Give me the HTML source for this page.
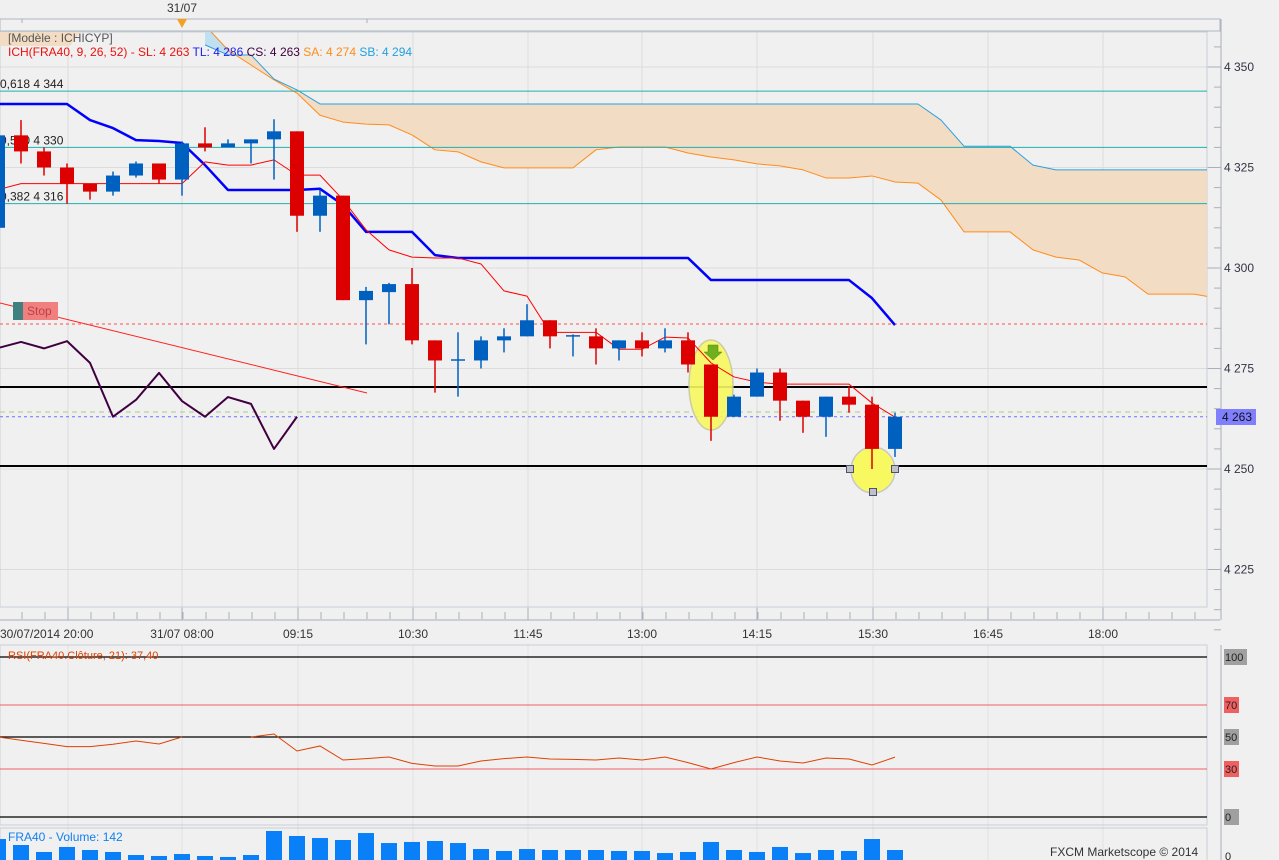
<!DOCTYPE html>
<html><head><meta charset="utf-8">
<style>
html,body{margin:0;padding:0;background:#f0f0f0;}
svg{display:block;font-family:"Liberation Sans",sans-serif;}
</style></head>
<body>
<svg id="chart" width="1279" height="860" viewBox="0 0 1279 860" xmlns="http://www.w3.org/2000/svg">
<defs><clipPath id="mainclip"><rect x="0" y="32" width="1207" height="575"/></clipPath></defs>
<rect x="0" y="0" width="1279" height="860" fill="#f0f0f0"/>
<g id="grid"></g>
<g id="main" clip-path="url(#mainclip)"></g>
<g id="overlay"></g>
<g id="rsi"></g>
<g id="vol"></g>
</svg>
<script>
// ---- data ----
const opens  =[4310,4333,4329,4325,4321,4319,4323,4326,4322,4331,4330,4331,4332,4334,4313,4318,4292,4294,4296,4282,4277,4277,4282,4283,4287,4283,4283,4280,4282,4280,4282,4276,4263,4268,4274,4267,4263,4268,4266,4255];
const highs  =[4334,4336.8,4330,4326,4321,4324,4326.5,4326,4331.5,4335,4332,4332,4337,4334,4319.5,4318,4295.3,4296.3,4300,4282,4284,4283,4285,4291,4287,4283.5,4285,4282,4284,4285,4284,4276,4268.5,4275,4275,4267,4268,4270.5,4268,4264];
const lows   =[4308,4326,4323,4316,4317,4318,4322.5,4321,4318,4329,4330,4326,4322,4309,4309,4292,4281,4286,4281,4269,4268,4275,4279,4283,4280,4278,4276,4277,4278,4279,4274,4257,4263,4268,4262,4259,4258,4264,4250,4253];
const closes =[4333,4329,4325,4321,4319,4323,4326,4322,4331,4330,4331,4332,4334,4313,4318,4292,4294.3,4296,4282,4277,4277.3,4282,4283,4287,4283,4283.3,4280,4282,4280,4282,4276,4263,4268,4274,4267,4263,4268,4266,4255,4263];
const tenkan =[4319.5,4321,4321,4321,4321,4321,4321,4321,4321,4326.4,4325.6,4325.6,4326.9,4323.1,4323.1,4317,4309.5,4304.5,4302.7,4302.5,4302.5,4301,4294.3,4293,4284,4284,4284,4279.8,4279.8,4282.8,4282.6,4276.4,4272.9,4271.6,4271.1,4271.1,4271.1,4271.1,4266.4,4262.9];
const kijun  =[4340.8,4340.8,4340.8,4340.8,4336.8,4334.8,4331.8,4331.6,4331.1,4325.6,4319.4,4319.4,4319.4,4319.4,4319.7,4315.7,4309,4309,4309,4303.2,4302.5,4302.5,4302.5,4302.5,4302.5,4302.5,4302.5,4302.5,4302.5,4302.5,4302.5,4297,4297,4297,4297,4297,4297,4297,4292.5,4285.8];
const chikou =[4280.1,4281.6,4280,4281.8,4276.4,4263,4267.2,4273.9,4266.9,4263,4267.9,4266.2,4255,4263];
const cloudStart=9;
const senkouA=[4360.4,4354.2,4350.5,4346.8,4343.5,4338,4336.3,4335.8,4335.6,4333.1,4329.4,4328.9,4326.4,4324.9,4324.9,4324.9,4324.9,4329.4,4330.1,4330.1,4330.1,4328.6,4327.6,4326.9,4325.9,4325.4,4324.4,4322.4,4322.4,4322.9,4321.4,4321.1,4316.9,4309,4309,4309,4304.5,4302.7,4302,4298.8,4297.8,4293.5,4293.5,4293.5,4292.5];
const senkouB=[4355.5,4353,4353,4347,4344.3,4340.8,4340.8,4340.8,4340.8,4340.8,4340.8,4340.8,4340.8,4340.8,4340.8,4340.8,4340.8,4340.8,4340.8,4340.8,4340.8,4340.8,4340.8,4340.8,4340.8,4340.8,4340.8,4340.8,4340.8,4340.8,4340.8,4340.8,4336.8,4330.3,4330.3,4330.3,4325.6,4324.4,4324.4,4324.4,4324.4,4324.4,4324.4,4324.4,4324.4];
const rsiVals=[50,48,46,44,44,45.5,47.5,45.6,50,null,null,50,51.9,41.25,44.4,35.6,36.5,37.5,33.5,31.9,31.9,35,36.5,37.5,36.25,36,35.6,36.9,35.6,37.5,34,30,34,37.5,35,33.75,36.9,36.25,32.5,37.4];
const volumes=[298,213,114,185,142,114,71,57,85,57,43,71,412,341,312,284,383,241,256,270,241,156,128,156,142,142,142,128,128,99,114,256,142,114,185,99,142,128,298,142];
const priceTicks=[4350,4325,4300,4275,4250,4225];
const timeLabels=["30/07/2014 20:00","31/07 08:00","09:15","10:30","11:45","13:00","14:15","15:30","16:45","18:00"];
const fibLevels=[4344,4330,4316];
const fibNames=["0,618 4 344","0,500 4 330","0,382 4 316"];
const rsiLevels=[100,70,50,30,0];

// ---- scales ----
const NS="http://www.w3.org/2000/svg";
const X=i=>-2+23*i;
const Y=p=>67+(4350-p)*4.02;
const RY=v=>737-(v-50)*1.6;
function mk(tag,attrs,parent){const e=document.createElementNS(NS,tag);for(const k in attrs)e.setAttribute(k,attrs[k]);parent.appendChild(e);return e;}
const G=document.getElementById('grid'),M=document.getElementById('main'),O=document.getElementById('overlay'),R=document.getElementById('rsi'),V=document.getElementById('vol');

// grid & axes
const gridXs=[68,182,298,413,528,642,757,873,988,1103];
gridXs.forEach((gx,k)=>{
  let l=mk('line',{x1:gx,y1:32,x2:gx,y2:607,stroke:'#dcdcdc'},G);
  
  
  let l2=mk('line',{x1:gx,y1:645,x2:gx,y2:860,stroke:'#e2e2e2'},G);
  
  
  let t=mk('text',{x:k===0?0:gx,y:638,'font-size':12,fill:'#333','text-anchor':k===0?'start':'middle'},G);
  t.textContent=timeLabels[k];
  
  
  mk('line',{x1:gx,y1:607,x2:gx,y2:620,stroke:'#a8b0bc'},G);
});
for(let x=22;x<1207;x+=23){mk('line',{x1:x,y1:612,x2:x,y2:619,stroke:'#a8b0bc'},G);}
mk('line',{x1:0,y1:620,x2:1220,y2:620,stroke:'#a8b0bc'},G);
priceTicks.forEach(p=>{
  let l=mk('line',{x1:0,y1:Y(p),x2:1207,y2:Y(p),stroke:'#dcdcdc'},G);
  
  
  mk('line',{x1:1207,y1:Y(p),x2:1221,y2:Y(p),stroke:'#a8b0bc'},G);
  let t=mk('text',{x:1224,y:Y(p)+4,'font-size':12,fill:'#334'},G);
  t.textContent=String(p).replace(/^(\d)/,'$1 ');
  
  
});
for(let p=4355;p>=4210;p-=5){mk('line',{x1:1214,y1:Y(p),x2:1221,y2:Y(p),stroke:'#a8b0bc'},G);}
mk('rect',{x:0,y:19,width:1220,height:12,fill:'none',stroke:'#b0b8c4'},G);
mk('line',{x1:22,y1:19,x2:22,y2:23,stroke:'#a8b0bc'},G);
mk('line',{x1:367,y1:19,x2:367,y2:23,stroke:'#a8b0bc'},G);
let dl=mk('text',{x:182,y:12,'font-size':12,fill:'#333','text-anchor':'middle'},G);dl.textContent="31/07";


let tri=mk('polygon',{points:'177,19 187,19 182,28',fill:'#f4a020'},G);


mk('rect',{x:0,y:32,width:1207,height:575,fill:'none',stroke:'#c8d0d8'},G);
mk('line',{x1:1221,y1:19,x2:1221,y2:620,stroke:'#a8b0bc'},G);

// cloud
mk('polygon',{points:'0,32 80,32 70,46 0,46',fill:'#f3dcc4'},M);
for(let k=0;k<senkouA.length-1;k++){
  const i=cloudStart+k;
  const a0=senkouA[k],a1=senkouA[k+1],b0=senkouB[k],b1=senkouB[k+1];
  let q=mk('polygon',{points:`${X(i)},${Y(a0)} ${X(i+1)},${Y(a1)} ${X(i+1)},${Y(b1)} ${X(i)},${Y(b0)}`,fill:(a0+a1>b0+b1)?'#bfe0f0':'#f3dcc4',stroke:'none'},M);
  
  
}
function poly(arr,start,color,w,name,par){
  const pts=arr.map((v,k)=>`${X(start+k)},${Y(v)}`).join(' ');
  let p=mk('polyline',{points:pts,fill:'none',stroke:color,'stroke-width':w,'stroke-linejoin':'round'},par);
  
  
  return p;
}
poly(senkouA,cloudStart,'#ff8c1a',1,'senkou-a-line',M);
poly(senkouB,cloudStart,'#2aa0e0',1,'senkou-b-line',M);

// fib lines
fibLevels.forEach((f,k)=>{
  let l=mk('line',{x1:0,y1:Y(f),x2:1207,y2:Y(f),stroke:'#20b0b0','stroke-width':1},M);
  
  
  let t=mk('text',{x:0,y:Y(f)-3,'font-size':12,fill:'#222'},M);
  t.textContent=fibNames[k];
  
  
});

// horizontal lines
let sl=mk('line',{x1:0,y1:324,x2:1207,y2:324,stroke:'#ff5050','stroke-dasharray':'3,3'},M);


let s1=mk('line',{x1:0,y1:387,x2:1207,y2:387,stroke:'#000','stroke-width':2},M);


let s2=mk('line',{x1:0,y1:466,x2:1207,y2:466,stroke:'#000','stroke-width':2},M);


let gl=mk('line',{x1:0,y1:412,x2:1207,y2:412,stroke:'#a8d080','stroke-dasharray':'5,4'},M);


let bl=mk('line',{x1:0,y1:Y(4263),x2:1207,y2:Y(4263),stroke:'#7070ff','stroke-dasharray':'3,3'},M);


let tl=mk('line',{x1:0,y1:303,x2:367,y2:393,stroke:'#ff2020','stroke-width':1},M);



// stop label
let sg=mk('g',{},M);


mk('rect',{x:13,y:302,width:10,height:18,fill:'#408080'},sg);
mk('rect',{x:23,y:302,width:35,height:18,fill:'#f08080'},sg);
let st=mk('text',{x:27,y:315,'font-size':12,fill:'#c04040'},sg);st.textContent="Stop";

// selection highlights
let e1=mk('ellipse',{cx:711,cy:385,rx:22,ry:45,fill:'#f8f860',stroke:'#c8c8a0','stroke-width':1.5,opacity:0.9},M);


let e2=mk('ellipse',{cx:873,cy:470,rx:22,ry:23,fill:'#f8f860',stroke:'#c8c8c8','stroke-width':1.5},M);



// ichimoku lines
poly(chikou,0,'#400040',2,'chikou-line',M);
poly(kijun,0,'#0000ff',2.5,'kijun-line',M);
poly(tenkan,0,'#ff0000',1,'tenkan-line',M);

// candles
opens.forEach((o,i)=>{
  const c=closes[i],up=c>=o,col=up?'#0060c0':'#dd0000',x=X(i);
  let g=mk('g',{},M);
  
  
  mk('line',{x1:x,y1:Y(highs[i]),x2:x,y2:Y(lows[i]),stroke:col,'stroke-width':1.5},g);
  const top=Y(Math.max(o,c)),bot=Y(Math.min(o,c));
  mk('rect',{x:x-7,y:top,width:14,height:Math.max(1.5,bot-top),fill:col},g);
});

// signal arrow & handles
let ar=mk('polygon',{points:'708,345 718,345 718,352 722,352 713,360 704,352 708,352',fill:'#70b020',stroke:'#508010','stroke-width':0.5},M);


[[850,469],[895,469],[873,492]].forEach(h=>{
  let r=mk('rect',{x:h[0]-3.5,y:h[1]-3.5,width:7,height:7,fill:'#c0c0c8',stroke:'#505070'},M);
  
  
});

// last price badge
let lb=mk('rect',{x:1216,y:409,width:40,height:16,fill:'#8080ff'},O);


let lt=mk('text',{x:1222,y:421,'font-size':12,fill:'#111'},O);lt.textContent="4 263";

// legend
let lg=mk('text',{x:8,y:42,'font-size':12,fill:'#555'},O);lg.textContent="[Modèle : ICHICYP]";


let leg=mk('text',{x:8,y:56,'font-size':12},O);


[["ICH(FRA40, 9, 26, 52) -  SL: 4 263  ","#ee1010"],["TL: 4 286  ","#2020ee"],["CS: 4 263  ","#400040"],["SA: 4 274  ","#ff8c1a"],["SB: 4 294","#20a0e0"]].forEach(s=>{
  let ts=mk('tspan',{fill:s[1]},leg);ts.textContent=s[0];
});

// RSI panel
mk('rect',{x:0,y:645,width:1207,height:180,fill:'none',stroke:'#c8d0d8'},R);
mk('line',{x1:1221,y1:645,x2:1221,y2:860,stroke:'#a8b0bc'},R);
rsiLevels.forEach(v=>{
  const red=(v===70||v===30);
  let l=mk('line',{x1:0,y1:RY(v),x2:1207,y2:RY(v),stroke:red?'#f06060':'#000','stroke-width':red?1:1.2},R);
  
  
  mk('rect',{x:1224,y:RY(v)-8,width:v===100?23:15,height:16,fill:red?'#f06060':'#a0a0a0'},R);
  let t=mk('text',{x:1225,y:RY(v)+4,'font-size':11,fill:'#222'},R);t.textContent=String(v);
  
  
});
let segs=[],cur=[];
rsiVals.forEach((v,i)=>{if(v===null){if(cur.length)segs.push(cur);cur=[];}else cur.push(`${X(i)},${RY(v)}`);});
if(cur.length)segs.push(cur);
segs.forEach(sg2=>{
  let p=mk('polyline',{points:sg2.join(' '),fill:'none',stroke:'#e04000','stroke-width':1},R);
  
  
});
let rl=mk('text',{x:8,y:659,'font-size':11,fill:'#e04000'},R);rl.textContent="RSI(FRA40.Clôture, 21): 37,40";



// volume panel
mk('rect',{x:0,y:828,width:1207,height:40,fill:'none',stroke:'#c8d0d8'},V);
volumes.forEach((v,i)=>{
  const h=v*10/142;
  let b=mk('rect',{x:X(i)-8,y:860-h,width:16,height:h,fill:'#0a80f8'},V);
  
  
});
let vl=mk('text',{x:8,y:841,'font-size':12,fill:'#1080f0'},V);vl.textContent="FRA40 - Volume: 142";


let cp=mk('text',{x:1050,y:856,'font-size':12,fill:'#333'},V);cp.textContent="FXCM Marketscope © 2014";


let z=mk('text',{x:1225,y:860,'font-size':11,fill:'#222'},V);z.textContent="0";
</script>
</body></html>
